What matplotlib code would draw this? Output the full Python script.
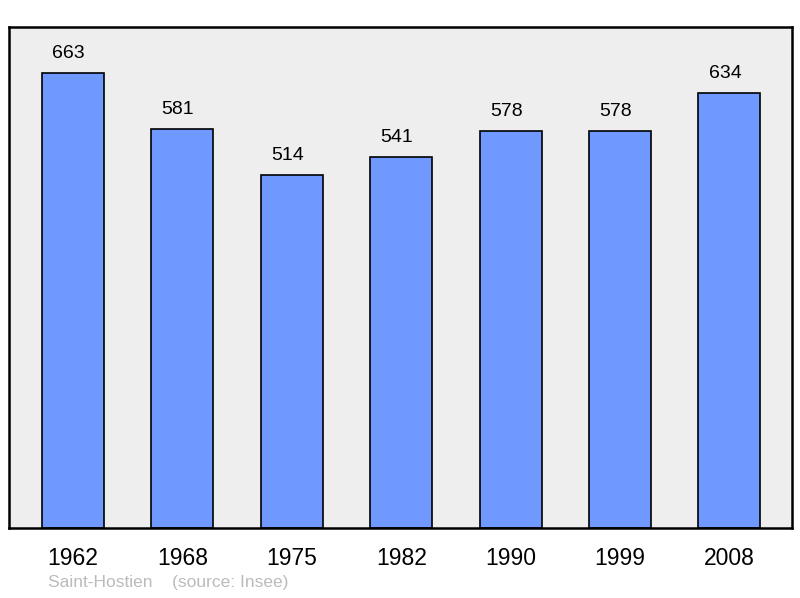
import matplotlib
matplotlib.use("Agg")
import matplotlib.pyplot as plt

years = ["1962", "1968", "1975", "1982", "1990", "1999", "2008"]
pop = [663, 581, 514, 541, 578, 578, 634]

plt.rcParams['font.family'] = ['Liberation Sans', 'DejaVu Sans']
fig = plt.figure(figsize=(8, 5.98), dpi=100)
ax = fig.add_axes([9/800, 1-528/598, 783/800, 501/598])
ax.set_facecolor('#eeeeee')
x = range(len(years))
ax.bar(x, pop, width=0.567, color='#7099ff', edgecolor='black', linewidth=1.2, zorder=2)
for i, v in zip(x, pop):
    ax.text(i - 0.04, v + 16, str(v), ha='center', va='bottom', fontsize=14)
ax.set_xlim(-0.585, 6.572)
ax.set_ylim(0, 730)
ax.set_yticks([])
ax.set_xticks(list(x))
ax.set_xticklabels(years, fontsize=16.5)
ax.tick_params(axis='x', length=0, pad=14)
for s in ax.spines.values():
    s.set_linewidth(1.8)
fig.text(48/800, 1-583/598, "Saint-Hostien    (source: Insee)", fontsize=12.5, color='#bbbbbb', va='center')
fig.savefig("out.png", dpi=100)
